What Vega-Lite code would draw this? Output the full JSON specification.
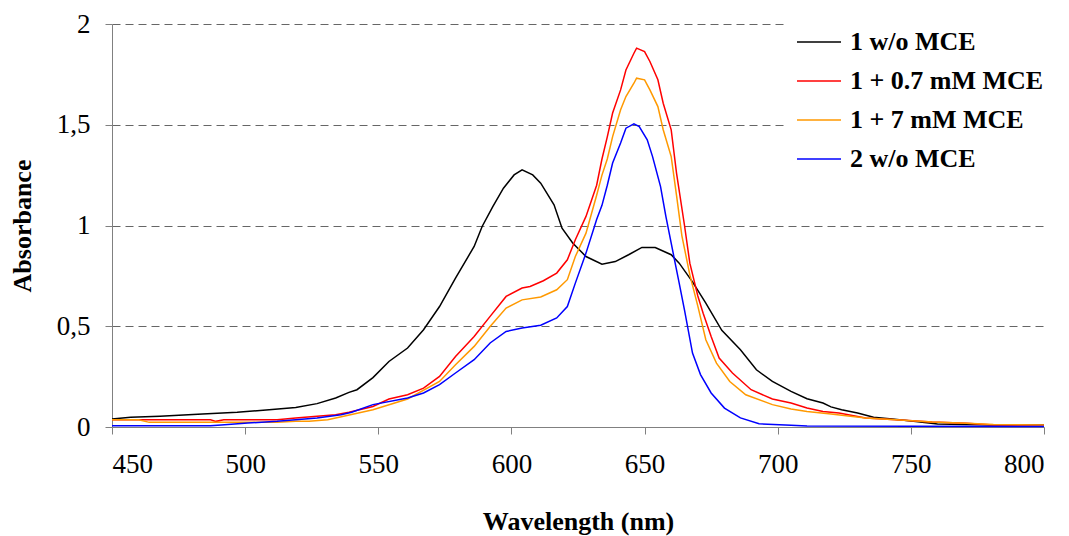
{
  "$schema": "https://vega.github.io/schema/vega-lite/v6.json",
  "autosize": "none",
  "padding": {"left": 112, "top": 24, "right": 25, "bottom": 109},
  "width": 932,
  "height": 403,
  "background": "white",
  "config": {"view": {"stroke": null}},
  "data": {"values": [
    {"s":"1 w/o MCE","x":450,"y":0.040},{"s":"1 w/o MCE","x":457,"y":0.048},{"s":"1 w/o MCE","x":468,"y":0.053},{"s":"1 w/o MCE","x":484,"y":0.064},{"s":"1 w/o MCE","x":497,"y":0.073},{"s":"1 w/o MCE","x":509,"y":0.086},{"s":"1 w/o MCE","x":519,"y":0.097},{"s":"1 w/o MCE","x":527,"y":0.116},{"s":"1 w/o MCE","x":534,"y":0.144},{"s":"1 w/o MCE","x":539,"y":0.172},{"s":"1 w/o MCE","x":542,"y":0.185},{"s":"1 w/o MCE","x":548,"y":0.245},{"s":"1 w/o MCE","x":554,"y":0.325},{"s":"1 w/o MCE","x":561,"y":0.392},{"s":"1 w/o MCE","x":567,"y":0.483},{"s":"1 w/o MCE","x":573,"y":0.598},{"s":"1 w/o MCE","x":579,"y":0.739},{"s":"1 w/o MCE","x":586,"y":0.896},{"s":"1 w/o MCE","x":589,"y":0.995},{"s":"1 w/o MCE","x":593,"y":1.094},{"s":"1 w/o MCE","x":597,"y":1.185},{"s":"1 w/o MCE","x":601,"y":1.251},{"s":"1 w/o MCE","x":604,"y":1.276},{"s":"1 w/o MCE","x":608,"y":1.251},{"s":"1 w/o MCE","x":611,"y":1.21},{"s":"1 w/o MCE","x":616,"y":1.103},{"s":"1 w/o MCE","x":619,"y":0.987},{"s":"1 w/o MCE","x":623,"y":0.913},{"s":"1 w/o MCE","x":628,"y":0.846},{"s":"1 w/o MCE","x":634,"y":0.808},{"s":"1 w/o MCE","x":639,"y":0.821},{"s":"1 w/o MCE","x":644,"y":0.855},{"s":"1 w/o MCE","x":649,"y":0.891},{"s":"1 w/o MCE","x":654,"y":0.891},{"s":"1 w/o MCE","x":660,"y":0.855},{"s":"1 w/o MCE","x":663,"y":0.813},{"s":"1 w/o MCE","x":668,"y":0.72},{"s":"1 w/o MCE","x":673,"y":0.615},{"s":"1 w/o MCE","x":679,"y":0.48},{"s":"1 w/o MCE","x":686,"y":0.383},{"s":"1 w/o MCE","x":692,"y":0.284},{"s":"1 w/o MCE","x":698,"y":0.226},{"s":"1 w/o MCE","x":705,"y":0.177},{"s":"1 w/o MCE","x":711,"y":0.14},{"s":"1 w/o MCE","x":717,"y":0.119},{"s":"1 w/o MCE","x":720,"y":0.10},{"s":"1 w/o MCE","x":724,"y":0.086},{"s":"1 w/o MCE","x":730,"y":0.069},{"s":"1 w/o MCE","x":736,"y":0.048},{"s":"1 w/o MCE","x":743,"y":0.04},{"s":"1 w/o MCE","x":751,"y":0.028},{"s":"1 w/o MCE","x":760,"y":0.015},{"s":"1 w/o MCE","x":770,"y":0.013},{"s":"1 w/o MCE","x":782,"y":0.01},{"s":"1 w/o MCE","x":800,"y":0.01},
    {"s":"1 + 0.7 mM MCE","x":450,"y":0.036},{"s":"1 + 0.7 mM MCE","x":487,"y":0.036},{"s":"1 + 0.7 mM MCE","x":489,"y":0.028},{"s":"1 + 0.7 mM MCE","x":492,"y":0.036},{"s":"1 + 0.7 mM MCE","x":512,"y":0.036},{"s":"1 + 0.7 mM MCE","x":519,"y":0.045},{"s":"1 + 0.7 mM MCE","x":527,"y":0.053},{"s":"1 + 0.7 mM MCE","x":534,"y":0.061},{"s":"1 + 0.7 mM MCE","x":539,"y":0.073},{"s":"1 + 0.7 mM MCE","x":548,"y":0.102},{"s":"1 + 0.7 mM MCE","x":554,"y":0.139},{"s":"1 + 0.7 mM MCE","x":561,"y":0.16},{"s":"1 + 0.7 mM MCE","x":567,"y":0.193},{"s":"1 + 0.7 mM MCE","x":573,"y":0.251},{"s":"1 + 0.7 mM MCE","x":579,"y":0.35},{"s":"1 + 0.7 mM MCE","x":586,"y":0.449},{"s":"1 + 0.7 mM MCE","x":592,"y":0.549},{"s":"1 + 0.7 mM MCE","x":598,"y":0.648},{"s":"1 + 0.7 mM MCE","x":604,"y":0.69},{"s":"1 + 0.7 mM MCE","x":607,"y":0.697},{"s":"1 + 0.7 mM MCE","x":612,"y":0.726},{"s":"1 + 0.7 mM MCE","x":617,"y":0.764},{"s":"1 + 0.7 mM MCE","x":621,"y":0.83},{"s":"1 + 0.7 mM MCE","x":624,"y":0.929},{"s":"1 + 0.7 mM MCE","x":628,"y":1.045},{"s":"1 + 0.7 mM MCE","x":632,"y":1.2},{"s":"1 + 0.7 mM MCE","x":634,"y":1.33},{"s":"1 + 0.7 mM MCE","x":636,"y":1.44},{"s":"1 + 0.7 mM MCE","x":638,"y":1.558},{"s":"1 + 0.7 mM MCE","x":641,"y":1.673},{"s":"1 + 0.7 mM MCE","x":643,"y":1.772},{"s":"1 + 0.7 mM MCE","x":646,"y":1.855},{"s":"1 + 0.7 mM MCE","x":647,"y":1.88},{"s":"1 + 0.7 mM MCE","x":650,"y":1.863},{"s":"1 + 0.7 mM MCE","x":652,"y":1.814},{"s":"1 + 0.7 mM MCE","x":655,"y":1.723},{"s":"1 + 0.7 mM MCE","x":657,"y":1.607},{"s":"1 + 0.7 mM MCE","x":660,"y":1.475},{"s":"1 + 0.7 mM MCE","x":662,"y":1.26},{"s":"1 + 0.7 mM MCE","x":665,"y":1.0},{"s":"1 + 0.7 mM MCE","x":667,"y":0.813},{"s":"1 + 0.7 mM MCE","x":670,"y":0.65},{"s":"1 + 0.7 mM MCE","x":672,"y":0.565},{"s":"1 + 0.7 mM MCE","x":675,"y":0.449},{"s":"1 + 0.7 mM MCE","x":678,"y":0.342},{"s":"1 + 0.7 mM MCE","x":683,"y":0.268},{"s":"1 + 0.7 mM MCE","x":690,"y":0.185},{"s":"1 + 0.7 mM MCE","x":698,"y":0.139},{"s":"1 + 0.7 mM MCE","x":705,"y":0.119},{"s":"1 + 0.7 mM MCE","x":711,"y":0.094},{"s":"1 + 0.7 mM MCE","x":717,"y":0.077},{"s":"1 + 0.7 mM MCE","x":723,"y":0.069},{"s":"1 + 0.7 mM MCE","x":733,"y":0.045},{"s":"1 + 0.7 mM MCE","x":746,"y":0.035},{"s":"1 + 0.7 mM MCE","x":758,"y":0.025},{"s":"1 + 0.7 mM MCE","x":771,"y":0.018},{"s":"1 + 0.7 mM MCE","x":781,"y":0.01},{"s":"1 + 0.7 mM MCE","x":800,"y":0.008},
    {"s":"1 + 7 mM MCE","x":450,"y":0.036},{"s":"1 + 7 mM MCE","x":460,"y":0.036},{"s":"1 + 7 mM MCE","x":464,"y":0.023},{"s":"1 + 7 mM MCE","x":512,"y":0.023},{"s":"1 + 7 mM MCE","x":519,"y":0.028},{"s":"1 + 7 mM MCE","x":524,"y":0.028},{"s":"1 + 7 mM MCE","x":531,"y":0.036},{"s":"1 + 7 mM MCE","x":537,"y":0.053},{"s":"1 + 7 mM MCE","x":548,"y":0.086},{"s":"1 + 7 mM MCE","x":561,"y":0.139},{"s":"1 + 7 mM MCE","x":573,"y":0.226},{"s":"1 + 7 mM MCE","x":579,"y":0.309},{"s":"1 + 7 mM MCE","x":586,"y":0.4},{"s":"1 + 7 mM MCE","x":592,"y":0.499},{"s":"1 + 7 mM MCE","x":598,"y":0.59},{"s":"1 + 7 mM MCE","x":604,"y":0.631},{"s":"1 + 7 mM MCE","x":611,"y":0.645},{"s":"1 + 7 mM MCE","x":617,"y":0.681},{"s":"1 + 7 mM MCE","x":621,"y":0.731},{"s":"1 + 7 mM MCE","x":624,"y":0.846},{"s":"1 + 7 mM MCE","x":628,"y":0.962},{"s":"1 + 7 mM MCE","x":632,"y":1.15},{"s":"1 + 7 mM MCE","x":634,"y":1.25},{"s":"1 + 7 mM MCE","x":636,"y":1.33},{"s":"1 + 7 mM MCE","x":638,"y":1.441},{"s":"1 + 7 mM MCE","x":641,"y":1.574},{"s":"1 + 7 mM MCE","x":643,"y":1.64},{"s":"1 + 7 mM MCE","x":646,"y":1.706},{"s":"1 + 7 mM MCE","x":647,"y":1.731},{"s":"1 + 7 mM MCE","x":650,"y":1.723},{"s":"1 + 7 mM MCE","x":652,"y":1.673},{"s":"1 + 7 mM MCE","x":655,"y":1.59},{"s":"1 + 7 mM MCE","x":657,"y":1.475},{"s":"1 + 7 mM MCE","x":660,"y":1.342},{"s":"1 + 7 mM MCE","x":662,"y":1.15},{"s":"1 + 7 mM MCE","x":664,"y":0.95},{"s":"1 + 7 mM MCE","x":667,"y":0.755},{"s":"1 + 7 mM MCE","x":670,"y":0.6},{"s":"1 + 7 mM MCE","x":673,"y":0.433},{"s":"1 + 7 mM MCE","x":677,"y":0.317},{"s":"1 + 7 mM MCE","x":682,"y":0.226},{"s":"1 + 7 mM MCE","x":688,"y":0.16},{"s":"1 + 7 mM MCE","x":698,"y":0.111},{"s":"1 + 7 mM MCE","x":705,"y":0.089},{"s":"1 + 7 mM MCE","x":711,"y":0.077},{"s":"1 + 7 mM MCE","x":720,"y":0.065},{"s":"1 + 7 mM MCE","x":733,"y":0.045},{"s":"1 + 7 mM MCE","x":746,"y":0.035},{"s":"1 + 7 mM MCE","x":758,"y":0.025},{"s":"1 + 7 mM MCE","x":771,"y":0.018},{"s":"1 + 7 mM MCE","x":781,"y":0.012},{"s":"1 + 7 mM MCE","x":800,"y":0.01},
    {"s":"2 w/o MCE","x":450,"y":0.006},{"s":"2 w/o MCE","x":487,"y":0.006},{"s":"2 w/o MCE","x":491,"y":0.01},{"s":"2 w/o MCE","x":501,"y":0.02},{"s":"2 w/o MCE","x":512,"y":0.028},{"s":"2 w/o MCE","x":519,"y":0.036},{"s":"2 w/o MCE","x":527,"y":0.045},{"s":"2 w/o MCE","x":536,"y":0.061},{"s":"2 w/o MCE","x":540,"y":0.073},{"s":"2 w/o MCE","x":548,"y":0.111},{"s":"2 w/o MCE","x":561,"y":0.144},{"s":"2 w/o MCE","x":567,"y":0.169},{"s":"2 w/o MCE","x":573,"y":0.21},{"s":"2 w/o MCE","x":579,"y":0.268},{"s":"2 w/o MCE","x":586,"y":0.334},{"s":"2 w/o MCE","x":592,"y":0.417},{"s":"2 w/o MCE","x":598,"y":0.474},{"s":"2 w/o MCE","x":604,"y":0.491},{"s":"2 w/o MCE","x":611,"y":0.505},{"s":"2 w/o MCE","x":617,"y":0.541},{"s":"2 w/o MCE","x":621,"y":0.598},{"s":"2 w/o MCE","x":624,"y":0.714},{"s":"2 w/o MCE","x":628,"y":0.863},{"s":"2 w/o MCE","x":632,"y":1.03},{"s":"2 w/o MCE","x":634,"y":1.1},{"s":"2 w/o MCE","x":636,"y":1.2},{"s":"2 w/o MCE","x":638,"y":1.31},{"s":"2 w/o MCE","x":641,"y":1.409},{"s":"2 w/o MCE","x":643,"y":1.483},{"s":"2 w/o MCE","x":646,"y":1.504},{"s":"2 w/o MCE","x":648,"y":1.491},{"s":"2 w/o MCE","x":651,"y":1.425},{"s":"2 w/o MCE","x":653,"y":1.342},{"s":"2 w/o MCE","x":656,"y":1.193},{"s":"2 w/o MCE","x":658,"y":1.045},{"s":"2 w/o MCE","x":661,"y":0.846},{"s":"2 w/o MCE","x":663,"y":0.714},{"s":"2 w/o MCE","x":665,"y":0.58},{"s":"2 w/o MCE","x":668,"y":0.367},{"s":"2 w/o MCE","x":671,"y":0.26},{"s":"2 w/o MCE","x":675,"y":0.169},{"s":"2 w/o MCE","x":680,"y":0.094},{"s":"2 w/o MCE","x":686,"y":0.045},{"s":"2 w/o MCE","x":693,"y":0.016},{"s":"2 w/o MCE","x":705,"y":0.009},{"s":"2 w/o MCE","x":711,"y":0.005},{"s":"2 w/o MCE","x":800,"y":0.002}
  ]},
  "mark": {"type": "line", "strokeWidth": 1.5, "interpolate": "linear"},
  "encoding": {
    "x": {
      "field": "x", "type": "quantitative",
      "scale": {"domain": [450, 800], "nice": false, "zero": false},
      "axis": {
        "title": "Wavelength (nm)",
        "values": [450, 500, 550, 600, 650, 700, 750, 800],
        "grid": false,
        "tickSize": 7, "tickColor": "#808080", "domainColor": "#808080",
        "labelFont": "Liberation Serif", "labelFontSize": 27, "labelColor": "#000000",
        "labelPadding": 17,
        "titleFont": "Liberation Serif", "titleFontSize": 26, "titleFontWeight": "bold", "titleColor": "#000000",
        "titlePadding": 31
      }
    },
    "y": {
      "field": "y", "type": "quantitative",
      "scale": {"domain": [0, 2], "nice": false},
      "axis": {
        "title": "Absorbance",
        "values": [0, 0.5, 1, 1.5, 2],
        "labelExpr": "replace(toString(datum.value), '.', ',')",
        "grid": true, "gridDash": [8, 5], "gridColor": "#666666", "gridWidth": 1,
        "tickSize": 7, "tickColor": "#808080", "domainColor": "#808080",
        "labelFont": "Liberation Serif", "labelFontSize": 27, "labelColor": "#000000",
        "labelPadding": 15,
        "titleFont": "Liberation Serif", "titleFontSize": 26, "titleFontWeight": "bold", "titleColor": "#000000",
        "titlePadding": 21
      }
    },
    "color": {
      "field": "s", "type": "nominal",
      "scale": {
        "domain": ["1 w/o MCE", "1 + 0.7 mM MCE", "1 + 7 mM MCE", "2 w/o MCE"],
        "range": ["#000000", "#FF0000", "#FF9900", "#0000FF"]
      },
      "legend": {
        "title": null,
        "orient": "none",
        "legendX": 676,
        "legendY": -13,
        "fillColor": "white",
        "padding": 8,
        "symbolType": "stroke",
        "symbolSize": 1936,
        "symbolStrokeWidth": 1.5,
        "labelFont": "Liberation Serif",
        "labelFontSize": 26,
        "labelFontWeight": "bold",
        "labelColor": "#000000",
        "labelOffset": 8,
        "rowPadding": 3,
        "labelLimit": 400
      }
    }
  }
}
